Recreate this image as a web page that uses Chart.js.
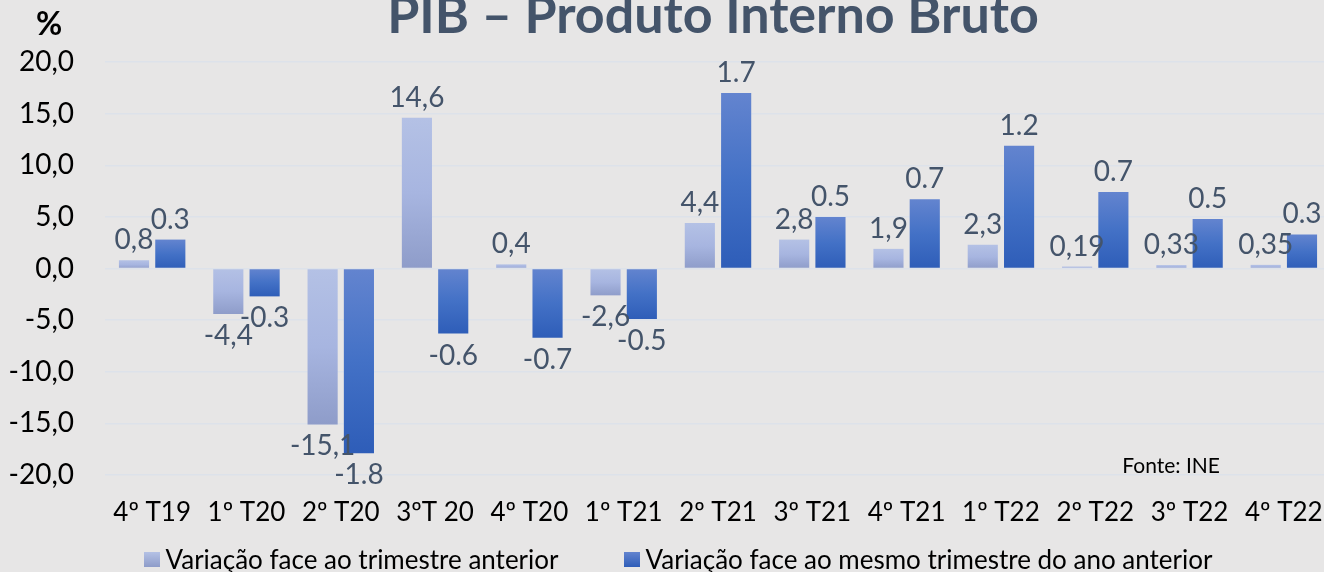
<!DOCTYPE html>
<html>
<head>
<meta charset="utf-8">
<script src="https://cdn.jsdelivr.net/npm/chart.js@4.4.1/dist/chart.umd.min.js"></script>
<style>
  html, body { margin: 0; padding: 0; background: #e7e6e6; overflow: hidden; }
  #wrap { position: relative; width: 1324px; height: 572px; overflow: hidden; }
  #legenda {
    position: absolute; left: 0; top: 544px; width: 1356px; height: 30px;
    display: flex; justify-content: center; gap: 65px;
    font: 26px Lato, "Open Sans", sans-serif; line-height: 30px; color: #000;
  }
  #legenda .item { display: flex; align-items: center; white-space: nowrap; }
  #legenda .caixa { width: 16px; height: 15px; margin-right: 6px; }
</style>
</head>
<body>
<div id="wrap">
  <canvas id="pib" width="1331" height="572"></canvas>
  <div id="legenda"></div>
</div>
<script>
// dados
const trimestres = ["4º T19", "1º T20", "2º T20", "3ºT 20", "4º T20", "1º T21", "2º T21",
                    "3º T21", "4º T21", "1º T22", "2º T22", "3º T22", "4º T22"];
const varTrimestral = [0.8, -4.4, -15.1, 14.6, 0.4, -2.6, 4.4, 2.8, 1.9, 2.3, 0.19, 0.33, 0.35];
const varHomologa = [2.8, -2.7, -17.9, -6.3, -6.7, -4.9, 17.0, 5.0, 6.7, 11.9, 7.4, 4.8, 3.3];
// rótulos tal como aparecem no gráfico
const rotTrimestral = ["0,8", "-4,4", "-15,1", "14,6", "0,4", "-2,6", "4,4", "2,8", "1,9", "2,3", "0,19", "0,33", "0,35"];
const rotHomologa = ["0.3", "-0.3", "-1.8", "-0.6", "-0.7", "-0.5", "1.7", "0.5", "0.7", "1.2", "0.7", "0.5", "0.3"];
const serieNomes = ["Variação face ao trimestre anterior", "Variação face ao mesmo trimestre do ano anterior"];

const FONT = "Lato, 'Open Sans', sans-serif";
const corClara = ["#b4c1e5", "#a7b5e0", "#8e9cc9"];
const corEscura = ["#6384cf", "#4371c6", "#2e5db8"];

// gradiente vertical por barra
function gradBarra(cores) {
    return function (c) {
        if (c.type !== "data" || !c.chart.chartArea) return cores[1];
        const y = c.chart.scales.y;
        const p0 = y.getPixelForValue(0);
        const p1 = y.getPixelForValue(c.parsed.y);
        const g = c.chart.ctx.createLinearGradient(0, Math.min(p0, p1), 0, Math.max(p0, p1) + 0.5);
        g.addColorStop(0, cores[0]);
        g.addColorStop(0.5, cores[1]);
        g.addColorStop(1, cores[2]);
        return g;
    };
}

// rótulos das barras, título, "%" e fonte
const textosPlugin = {
    id: "textos",
    afterDatasetsDraw(chart) {
        const ctx = chart.ctx;
        const rotulos = [rotTrimestral, rotHomologa];
        ctx.save();
        ctx.font = "28px " + FONT;
        ctx.fillStyle = "#44546a";
        ctx.textAlign = "center";
        ctx.textBaseline = "alphabetic";
        chart.data.datasets.forEach((ds, i) => {
            chart.getDatasetMeta(i).data.forEach((bar, j) => {
                const v = ds.data[j];
                const y = v >= 0 ? bar.y - 11 : bar.y + 31;
                ctx.fillText(rotulos[i][j], bar.x, y);
            });
        });
        ctx.restore();
    },
    afterDraw(chart) {
        const ctx = chart.ctx;
        ctx.save();
        ctx.textBaseline = "alphabetic";
        ctx.textAlign = "center";
        ctx.fillStyle = "#44546a";
        ctx.font = "bold 52px " + FONT;
        ctx.fillText("PIB – Produto Interno Bruto", 713, 33);
        ctx.fillStyle = "#000";
        ctx.font = "bold 32px " + FONT;
        ctx.fillText("%", 49, 35);
        ctx.textAlign = "right";
        ctx.font = "21px " + FONT;
        ctx.fillText("Fonte: INE", 1220, 473);
        ctx.restore();
    }
};

const chart = new Chart(document.getElementById("pib"), {
    type: "bar",
    data: {
        labels: trimestres,
        datasets: [
            {
                label: serieNomes[0],
                data: varTrimestral,
                backgroundColor: gradBarra(corClara),
                categoryPercentage: 0.77,
                barPercentage: 0.83,
            },
            {
                label: serieNomes[1],
                data: varHomologa,
                backgroundColor: gradBarra(corEscura),
                categoryPercentage: 0.77,
                barPercentage: 0.83,
            },
        ],
    },
    options: {
        responsive: false,
        animation: false,
        maintainAspectRatio: false,
        layout: { padding: { top: 62, left: 0, right: 0, bottom: 43 } },
        scales: {
            x: {
                afterFit(s) {
                    s.height = 54;
                    s.paddingLeft = 0;
                    s.paddingRight = 0;
                },
                grid: { display: false, drawTicks: false },
                border: { display: false },
                ticks: { color: "#000", font: { family: FONT, size: 26 }, padding: 22, maxRotation: 0, autoSkip: false },
            },
            y: {
                min: -20,
                max: 20,
                afterFit(s) { s.width = 105; },
                grid: { color: "#dde2ea", lineWidth: 1.5, drawTicks: false },
                border: { display: false },
                ticks: {
                    stepSize: 5,
                    padding: 31,
                    color: "#000",
                    font: { family: FONT, size: 28 },
                    callback: v => v.toFixed(1).replace(".", ","),
                },
            },
        },
        plugins: {
            legend: { display: false },
            title: { display: false },
            tooltip: { enabled: false },
        },
    },
    plugins: [textosPlugin],
});

// legenda em HTML a partir dos datasets
const cores = [corClara, corEscura];
const legenda = document.getElementById("legenda");
chart.data.datasets.forEach((ds, i) => {
    const item = document.createElement("div");
    item.className = "item";
    const caixa = document.createElement("span");
    caixa.className = "caixa";
    caixa.style.background = `linear-gradient(${cores[i][0]}, ${cores[i][2]})`;
    const txt = document.createElement("span");
    txt.textContent = ds.label;
    item.appendChild(caixa);
    item.appendChild(txt);
    legenda.appendChild(item);
});
</script>
</body>
</html>
